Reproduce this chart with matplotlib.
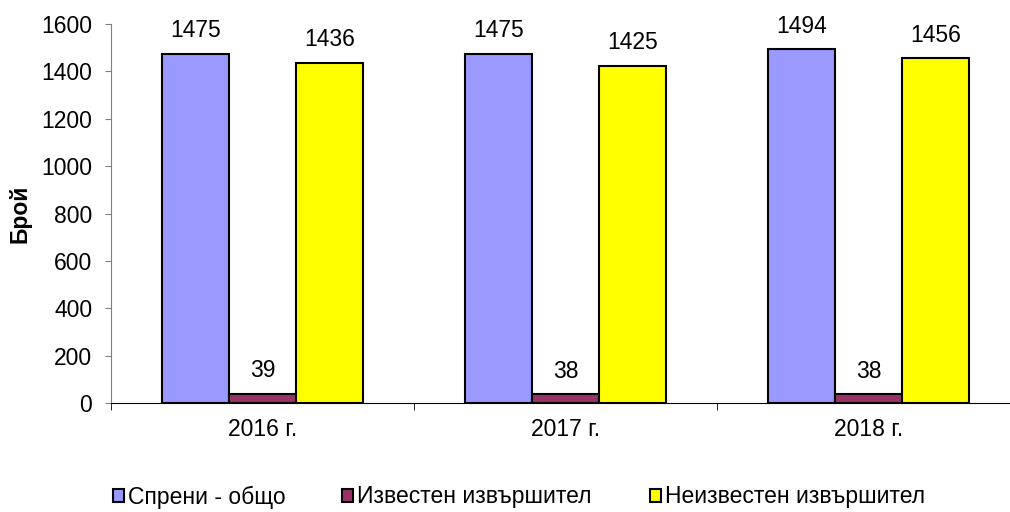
import numpy as np
import matplotlib
matplotlib.use('Agg')
import matplotlib.pyplot as plt
from matplotlib.patches import Patch

plt.rcParams['font.family'] = ['Liberation Sans', 'DejaVu Sans']

years = ['2016 г.', '2017 г.', '2018 г.']
series_names = ['Спрени - общо', 'Известен извършител', 'Неизвестен извършител']
total = [1475, 1475, 1494]
known = [39, 38, 38]
unknown = [1436, 1425, 1456]
colors = ['#9999FF', '#993366', '#FFFF00']

fs = 16.5

fig = plt.figure(figsize=(10.1, 5.12), dpi=100)
ax = fig.add_axes([0.110, 0.213, 0.900, 0.740])

x = np.arange(len(years))
width = 0.221
for i, (vals, col) in enumerate(zip([total, known, unknown], colors)):
    pos = x + (i - 1) * width
    bars = ax.bar(pos, vals, width, color=col, edgecolor='black', linewidth=1.5)
    for b, v in zip(bars, vals):
        ax.annotate(str(v), (b.get_x() + b.get_width() / 2, v),
                    xytext=(0, 16.5), textcoords='offset points',
                    ha='center', va='center', fontsize=fs)

ax.set_xlim(-0.5, 2.5)
ax.set_ylim(0, 1600)
ax.set_yticks(range(0, 1601, 200))
ax.set_xticks(x)
ax.set_xticklabels(years)
ax.set_xticks([-0.5, 0.5, 1.5, 2.5], minor=True)
ax.tick_params(axis='x', which='major', length=0, pad=11, labelsize=fs)
ax.tick_params(axis='x', which='minor', length=5, color='black')
ax.tick_params(axis='y', length=4.5, pad=9, labelsize=fs, color='#808080')
ax.spines['top'].set_visible(False)
ax.spines['right'].set_visible(False)
ax.spines['left'].set_color('#808080')
ax.spines['bottom'].set_color('black')
ax.set_ylabel('Брой', fontsize=fs, fontweight='bold', labelpad=7)

legend_x = [113, 342, 650]
for name, col, lx in zip(series_names, colors, legend_x):
    fig.legend(handles=[Patch(facecolor=col, edgecolor='black', linewidth=1.5)],
               labels=[name], loc='center left',
               bbox_to_anchor=(lx / 1010, 1 - 497 / 512),
               frameon=False, fontsize=fs, handlelength=0.5, handleheight=0.5,
               handletextpad=0.15, borderpad=0, borderaxespad=0)

fig.savefig('out.png', dpi=100)
